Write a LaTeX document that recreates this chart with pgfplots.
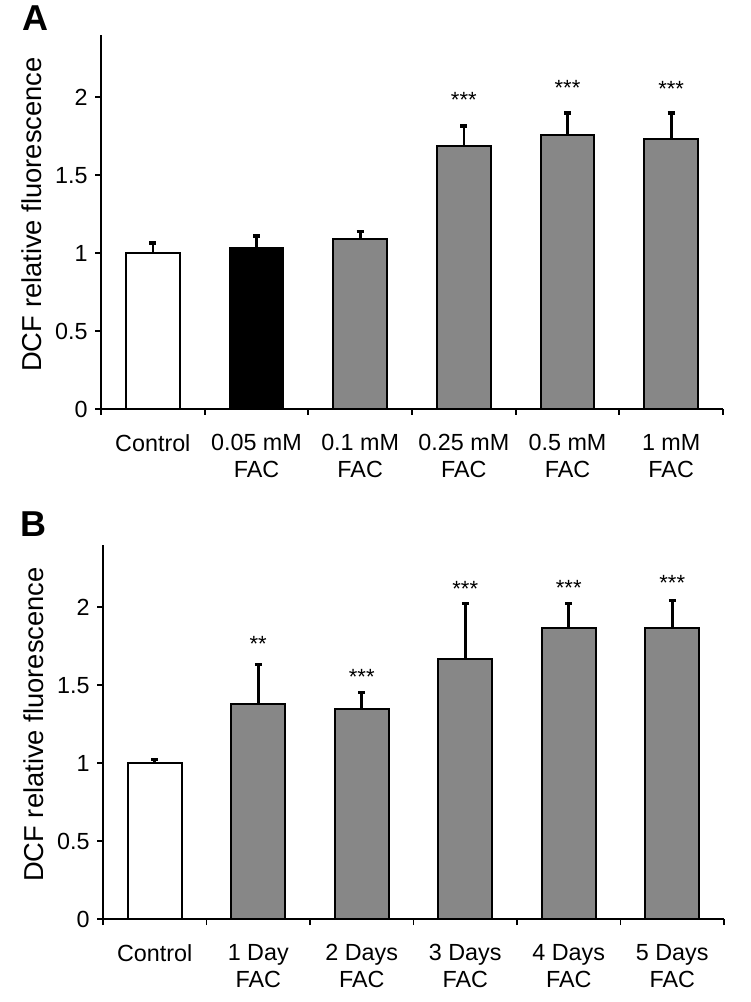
\documentclass[border=0pt]{standalone}
\usepackage{pgfplots}
\pgfplotsset{compat=1.18}
\usepackage{fontspec}
\setmainfont{Liberation Sans}
\definecolor{bargray}{HTML}{878787}
\tikzset{stars/.style={anchor=base, font=\fontsize{16.5}{18}\selectfont}}
\pgfplotsset{
  panel/.style={
    scale only axis, width=466.5pt, height=280.5pt,
    anchor=south west,
    xmin=-0.5, xmax=5.5, ymin=0, ymax=2.4,
    axis x line=bottom, axis y line=left,
    axis line style={-, line width=1.4pt},
    ytick={0,0.5,1,1.5,2},
    xtick={-0.5,0.5,1.5,2.5,3.5,4.5,5.5},
    x tick label as interval,
    tick align=outside, major tick length=4.5pt,
    tick style={line width=1.4pt, black},
    /pgf/number format/assume math mode=true,
    tick label style={font=\fontsize{17.5}{20}\selectfont},
    xticklabel style={align=center, yshift=-11pt},
    yticklabel style={xshift=-2pt},
    ylabel={DCF relative fluorescence},
    ylabel style={font=\fontsize{20.5}{24}\selectfont, at={(axis description cs:-0.111,0.52)}, anchor=center},
    clip=false,
  },
  bars/.style={ybar, bar width=0.52, draw=black, line width=1.5pt,
    error bars/y dir=plus, error bars/y explicit,
    error bars/error bar style={line width=2pt, black},
    error bars/error mark options={rotate=90, line width=2.5pt, mark size=2.6pt, black}},
}
\begin{document}
\begin{tikzpicture}
\path[use as bounding box] (0,0) rectangle (562.5pt,751.5pt);
% Panel A
\begin{axis}[panel, at={(75.75pt,444.75pt)},
  xticklabels={{Control\\\mbox{}},{0.05 mM\\FAC},{0.1 mM\\FAC},{0.25 mM\\FAC},{0.5 mM\\FAC},{1 mM\\FAC}}]
\addplot[bars, fill=white] coordinates {(0,1.00) +- (0,0.065)};
\addplot[bars, fill=black] coordinates {(1,1.03) +- (0,0.08)};
\addplot[bars, fill=bargray] coordinates {
 (2,1.09) +- (0,0.05)
 (3,1.69) +- (0,0.125)
 (4,1.76) +- (0,0.14)
 (5,1.735) +- (0,0.165)};
\node[stars] at (axis cs:3,1.935) {***};
\node[stars] at (axis cs:4,2.01) {***};
\node[stars] at (axis cs:5,2.005) {***};
\end{axis}
% Panel B
\begin{axis}[panel, at={(77.25pt,62.25pt)}, width=465.75pt,
  xticklabels={{Control\\\mbox{}},{1 Day\\FAC},{2 Days\\FAC},{3 Days\\FAC},{4 Days\\FAC},{5 Days\\FAC}}]
\addplot[bars, fill=white] coordinates {(0,1.00) +- (0,0.025)};
\addplot[bars, fill=bargray] coordinates {
 (1,1.38) +- (0,0.255)
 (2,1.35) +- (0,0.105)
 (3,1.67) +- (0,0.355)
 (4,1.87) +- (0,0.155)
 (5,1.865) +- (0,0.18)};
\node[stars] at (axis cs:1,1.717) {**};
\node[stars] at (axis cs:2,1.505) {***};
\node[stars] at (axis cs:3,2.07) {***};
\node[stars] at (axis cs:4,2.076) {***};
\node[stars] at (axis cs:5,2.108) {***};
\end{axis}
\node[font=\bfseries\fontsize{27}{30}\selectfont] at (26.5pt,737.6pt) {A};
\node[font=\bfseries\fontsize{27}{30}\selectfont] at (25pt,358.5pt) {B};
\end{tikzpicture}
\end{document}
